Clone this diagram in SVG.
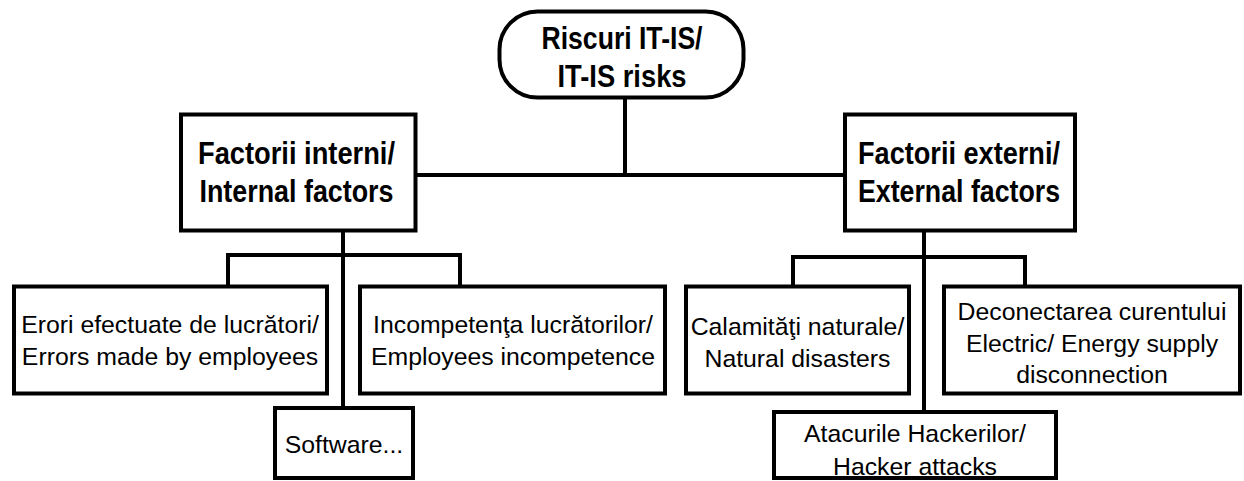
<svg xmlns="http://www.w3.org/2000/svg" width="1244" height="481" viewBox="0 0 1244 481">
<style>
.box{fill:#fff;stroke:#000;stroke-width:4}
.ln{fill:none;stroke:#000;stroke-width:4;stroke-linecap:square}
.h{font-family:"Liberation Sans",Arial,sans-serif;font-weight:bold;font-size:31.5px;fill:#000;text-anchor:middle}
.t{font-family:"Liberation Sans",Arial,sans-serif;font-size:24.8px;fill:#000;text-anchor:middle}
</style>
<rect width="1244" height="481" fill="#fff"/>
<g id="connectors">
<path class="ln" d="M625 98V175M416 175H843"/>
<path class="ln" d="M343 231V408M228 255H460M228 255V286M460 255V286"/>
<path class="ln" d="M924 231V412M793 257H1025M793 257V286M1025 257V286"/>
</g>
<g id="root">
<rect class="box" x="499.5" y="11.5" width="244" height="86" rx="38"/>
<text class="h" x="622" y="49" textLength="161" lengthAdjust="spacingAndGlyphs">Riscuri IT-IS/</text>
<text class="h" x="622" y="87" textLength="129" lengthAdjust="spacingAndGlyphs">IT-IS risks</text>
</g>
<g id="internal">
<rect class="box" x="181" y="114.5" width="234.5" height="116"/>
<text class="h" x="296.5" y="164" textLength="197" lengthAdjust="spacingAndGlyphs">Factorii interni/</text>
<text class="h" x="296.5" y="202" textLength="194" lengthAdjust="spacingAndGlyphs">Internal factors</text>
</g>
<g id="external">
<rect class="box" x="845" y="114.5" width="230" height="116"/>
<text class="h" x="959" y="164" textLength="202" lengthAdjust="spacingAndGlyphs">Factorii externi/</text>
<text class="h" x="959" y="202" textLength="202" lengthAdjust="spacingAndGlyphs">External factors</text>
</g>
<g id="erori">
<rect class="box" x="14" y="286.5" width="313" height="107"/>
<text class="t" x="170" y="333">Erori efectuate de lucrători/</text>
<text class="t" x="170" y="365">Errors made by employees</text>
</g>
<g id="incompetenta">
<rect class="box" x="360" y="286.5" width="305" height="107"/>
<text class="t" x="513" y="333">Incompetenţa lucrătorilor/</text>
<text class="t" x="513" y="365">Employees incompetence</text>
</g>
<g id="software">
<rect class="box" x="275" y="408" width="138" height="70"/>
<text class="t" x="344" y="453">Software...</text>
</g>
<g id="calamitati">
<rect class="box" x="686" y="286.5" width="223" height="107"/>
<text class="t" x="797.5" y="335">Calamităţi naturale/</text>
<text class="t" x="797.5" y="367">Natural disasters</text>
</g>
<g id="deconectarea">
<rect class="box" x="944" y="286.5" width="296" height="107"/>
<text class="t" x="1092" y="320">Deconectarea curentului</text>
<text class="t" x="1092" y="352">Electric/ Energy supply</text>
<text class="t" x="1092" y="383">disconnection</text>
</g>
<g id="atacurile">
<rect class="box" x="774" y="412" width="282" height="66"/>
<text class="t" x="915" y="442">Atacurile Hackerilor/</text>
<text class="t" x="915" y="475">Hacker attacks</text>
</g>
</svg>
